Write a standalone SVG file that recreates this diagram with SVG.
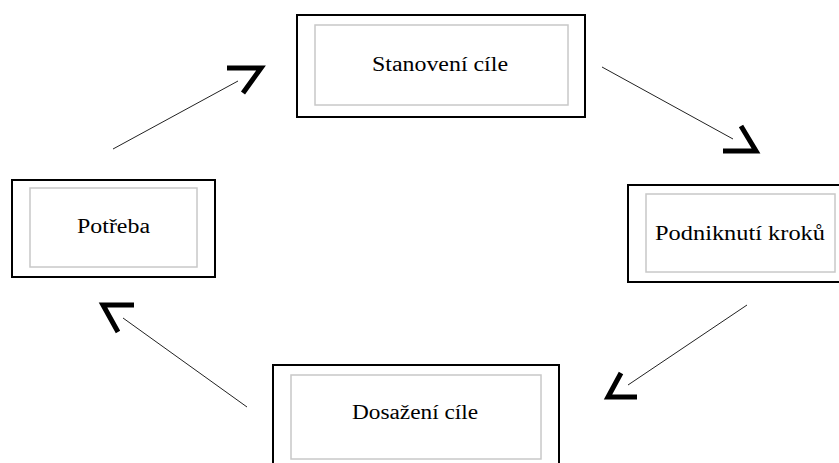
<svg xmlns="http://www.w3.org/2000/svg" width="839" height="463" viewBox="0 0 839 463">
<style>
.outer{fill:#fff;stroke:#000;stroke-width:2}
.inner{fill:#fff;stroke:#c8c8c8;stroke-width:1.5}
.lbl{font-family:"Liberation Serif","Times New Roman",serif;font-size:20px;fill:#000}
.ln{stroke:#222;stroke-width:1;fill:none}
.hd{stroke:#000;stroke-width:5;fill:none;stroke-linejoin:miter;stroke-linecap:butt}
</style>
<rect width="839" height="463" fill="#fff"/>
<g id="connectors">
<line class="ln" x1="113" y1="149" x2="238" y2="81"/>
<polyline class="hd" points="227,68 261,68 243,93"/>
<line class="ln" x1="602" y1="67" x2="733" y2="139"/>
<polyline class="hd" points="741,126 756,151 723,151"/>
<line class="ln" x1="747" y1="305" x2="628" y2="385"/>
<polyline class="hd" points="621,373 608,397 637,397"/>
<line class="ln" x1="247" y1="407" x2="123" y2="318"/>
<polyline class="hd" points="134,305 103,305 118,332"/>
</g>
<g id="node-stanoveni">
<rect class="outer" x="297" y="15" width="288" height="102"/>
<rect class="inner" x="315" y="25" width="253" height="80"/>
<text class="lbl" x="372" y="71" textLength="136" lengthAdjust="spacingAndGlyphs">Stanovení cíle</text>
</g>
<g id="node-potreba">
<rect class="outer" x="12" y="180" width="203" height="97"/>
<rect class="inner" x="30" y="188" width="167" height="79"/>
<text class="lbl" x="77" y="233" textLength="73" lengthAdjust="spacingAndGlyphs">Potřeba</text>
</g>
<g id="node-podniknuti">
<rect class="outer" x="628" y="185" width="220" height="97"/>
<rect class="inner" x="646" y="194" width="189" height="78"/>
<text class="lbl" x="655" y="240" textLength="170" lengthAdjust="spacingAndGlyphs">Podniknutí kroků</text>
</g>
<g id="node-dosazeni">
<rect class="outer" x="273" y="365" width="286" height="110"/>
<rect class="inner" x="291" y="375" width="250" height="84"/>
<text class="lbl" x="352" y="419" textLength="126" lengthAdjust="spacingAndGlyphs">Dosažení cíle</text>
</g>
</svg>
